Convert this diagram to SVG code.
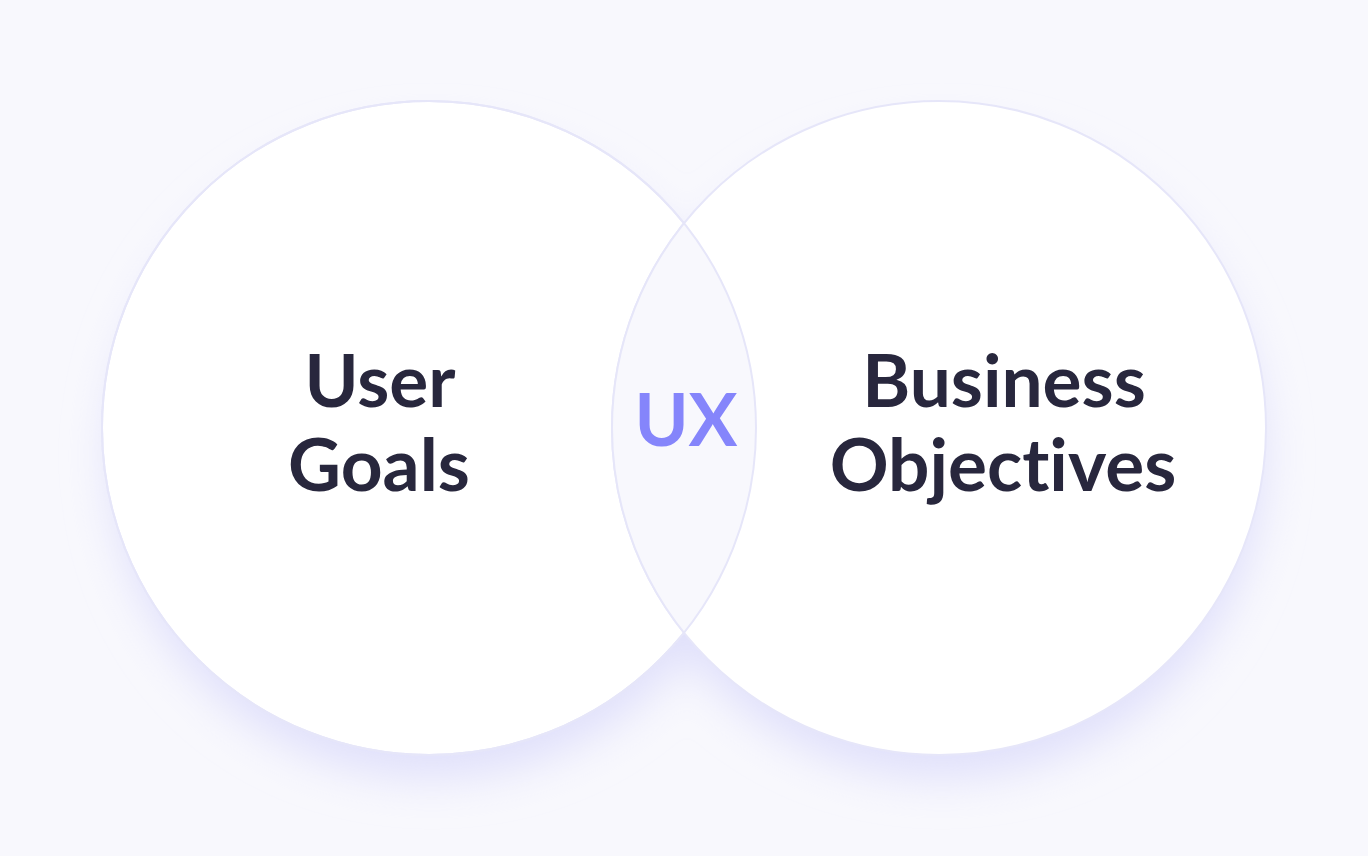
<svg xmlns="http://www.w3.org/2000/svg" width="1368" height="856" viewBox="0 0 1368 856">
<defs>
<filter id="sh" x="-30%" y="-30%" width="160%" height="170%">
<feGaussianBlur stdDeviation="22"/>
</filter>
<clipPath id="clipL"><circle cx="429" cy="428" r="327"/></clipPath>
<style>
.c{fill:#ffffff;stroke:#e6e6f9;stroke-width:2}
.t{font-family:Lato,"Liberation Sans",sans-serif;font-weight:700;font-size:73px;fill:#28273d;text-anchor:middle;font-variant-ligatures:none;font-feature-settings:"liga" 0,"dlig" 0}
.ux{fill:#8585fb}
</style>
</defs>
<rect width="1368" height="856" fill="#f8f8fd"/>
<g id="shadows" filter="url(#sh)">
<circle cx="432" cy="456" r="322" fill="#e0e0fb"/>
<circle cx="942" cy="456" r="322" fill="#e0e0fb"/>
</g>
<g id="user-goals">
<circle class="c" cx="429" cy="428" r="327"/>
</g>
<g id="business-objectives">
<circle class="c" cx="939" cy="428" r="327"/>
</g>
<g id="ux">
<circle cx="939" cy="428" r="327" fill="#f8f8fd" clip-path="url(#clipL)"/>
<circle cx="429" cy="428" r="327" fill="none" stroke="#e6e6f9" stroke-width="2"/>
<circle cx="939" cy="428" r="327" fill="none" stroke="#e6e6f9" stroke-width="2" clip-path="url(#clipL)"/>
<text class="t ux" x="686" y="446">UX</text>
</g>
<g id="labels">
<text class="t" x="380" y="407">User</text>
<text class="t" x="379" y="491">Goals</text>
<text class="t" x="1004" y="407">Business</text>
<text class="t" x="1003" y="491">Objectives</text>
</g>
<g id="connectors"/>
</svg>
